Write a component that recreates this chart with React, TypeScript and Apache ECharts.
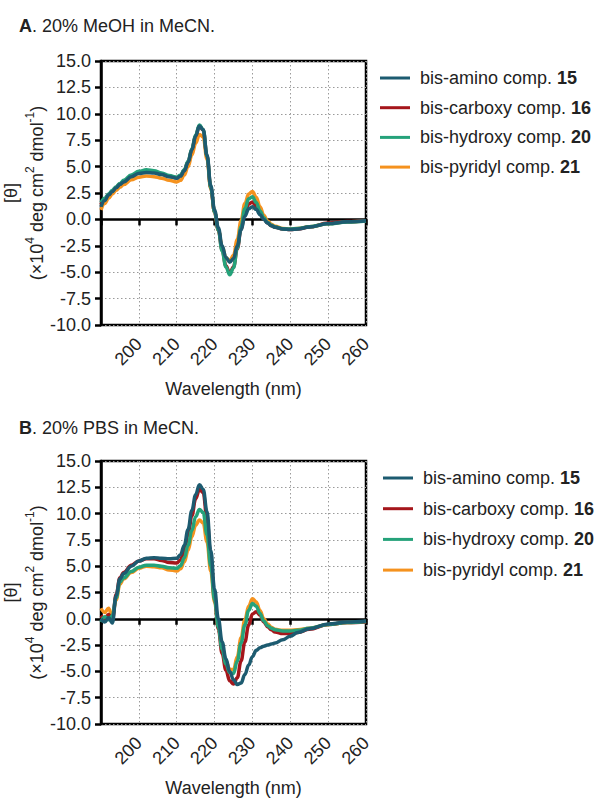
import React, { useEffect, useRef } from "react";
import * as echarts from "echarts";

const FONT = "'Liberation Sans', Arial, Helvetica, sans-serif";
const TXT = "#222";

const wavelengths = [190, 191, 192, 193, 194, 195, 196, 198, 200, 202, 204, 206, 208, 210, 211, 212, 213, 214, 215, 216, 217, 218, 219, 220, 221, 222, 223, 224, 225, 226, 227, 228, 229, 230, 231, 232, 233, 234, 235, 236, 238, 240, 242, 245, 250, 255, 260];

const seriesNames = ["bis-amino comp. 15", "bis-carboxy comp. 16", "bis-hydroxy comp. 20", "bis-pyridyl comp. 21"];
const seriesColors = ["#1d5b70", "#a5161b", "#25a27a", "#f5921e"];

// Panel A: 20% MeOH in MeCN
const aAmino = [1.2, 1.8, 2.3, 2.65, 3.0, 3.3, 3.55, 4.05, 4.35, 4.45, 4.4, 4.25, 4.05, 3.9, 4.1, 4.6, 5.4, 6.6, 7.9, 8.85, 8.5, 6.1, 3.2, 0.9, -0.8, -2.5, -3.6, -4.05, -3.7, -2.5, -1.0, 0.3, 1.0, 1.2, 0.95, 0.45, 0.0, -0.35, -0.6, -0.75, -0.9, -0.95, -0.9, -0.72, -0.4, -0.22, -0.13];
const aCarboxy = [1.4, 1.9, 2.35, 2.7, 3.05, 3.35, 3.6, 4.1, 4.4, 4.55, 4.5, 4.3, 4.1, 3.95, 4.15, 4.65, 5.45, 6.6, 7.9, 8.85, 8.45, 6.0, 3.0, 0.7, -1.0, -2.9, -4.4, -5.1, -4.5, -2.8, -0.9, 0.6, 1.45, 1.65, 1.25, 0.6, 0.05, -0.35, -0.6, -0.75, -0.9, -0.95, -0.9, -0.72, -0.35, -0.2, -0.12];
const aHydroxy = [1.6, 2.0, 2.4, 2.75, 3.1, 3.4, 3.7, 4.2, 4.55, 4.7, 4.6, 4.4, 4.15, 4.0, 4.2, 4.7, 5.5, 6.7, 8.0, 8.95, 8.5, 6.0, 3.0, 0.7, -1.0, -3.0, -4.5, -5.25, -4.6, -2.7, -0.7, 1.0, 1.95, 2.15, 1.6, 0.8, 0.15, -0.3, -0.55, -0.72, -0.88, -0.92, -0.85, -0.7, -0.42, -0.25, -0.15];
const aPyridyl = [0.9, 1.5, 2.0, 2.4, 2.75, 3.05, 3.3, 3.75, 4.0, 4.1, 4.05, 3.9, 3.7, 3.55, 3.7, 4.2, 5.0, 6.1, 7.2, 8.05, 7.8, 5.7, 2.9, 0.7, -1.0, -2.6, -3.6, -3.95, -3.4, -1.9, -0.1, 1.5, 2.4, 2.65, 2.1, 1.2, 0.4, -0.15, -0.45, -0.65, -0.85, -0.9, -0.85, -0.7, -0.4, -0.22, -0.12];

// Panel B: 20% PBS in MeCN
const bAmino = [0.0, -0.3, 0.1, -0.4, 2.2, 3.8, 4.3, 5.0, 5.5, 5.75, 5.8, 5.75, 5.7, 5.75, 6.1, 7.0, 8.5, 10.3, 11.8, 12.75, 12.3, 10.2, 6.5, 2.8, 0.0, -2.2, -3.8, -5.0, -5.8, -6.25, -6.1, -5.3, -4.4, -3.6, -3.0, -2.75, -2.6, -2.5, -2.4, -2.3, -2.0, -1.65, -1.3, -0.95, -0.5, -0.3, -0.2];
const bCarboxy = [0.3, 0.0, 0.4, -0.1, 2.3, 3.9, 4.4, 5.1, 5.5, 5.7, 5.7, 5.55, 5.35, 5.3, 5.6, 6.5, 8.0, 9.8, 11.4, 12.3, 12.0, 9.5, 5.8, 2.0, -1.0, -3.3, -4.9, -5.9, -6.2, -5.6, -4.0, -2.2, -0.6, 0.45, 0.68, 0.35, -0.3, -0.75, -1.05, -1.25, -1.4, -1.4, -1.3, -1.0, -0.55, -0.35, -0.3];
const bHydroxy = [-0.3, 0.2, -0.1, 0.3, 2.0, 3.5, 3.9, 4.5, 4.9, 5.1, 5.1, 5.0, 4.85, 4.8, 5.05, 5.8, 7.0, 8.4, 9.7, 10.4, 10.1, 8.0, 5.0, 1.8, -0.8, -2.9, -4.3, -5.1, -5.2, -4.0, -2.3, -0.6, 0.8, 1.45, 1.2, 0.5, -0.2, -0.65, -0.9, -1.05, -1.15, -1.15, -1.1, -0.9, -0.55, -0.35, -0.25];
const bPyridyl = [1.0, 0.6, 1.0, 0.2, 1.8, 3.3, 3.8, 4.4, 4.8, 5.0, 4.95, 4.85, 4.65, 4.55, 4.75, 5.4, 6.5, 7.8, 8.9, 9.4, 9.1, 7.3, 4.5, 1.6, -0.8, -2.7, -4.0, -4.8, -4.85, -3.6, -1.8, -0.1, 1.2, 1.9, 1.6, 0.8, 0.0, -0.5, -0.8, -1.0, -1.1, -1.1, -1.05, -0.9, -0.55, -0.35, -0.25];

const xTicks = [200, 210, 220, 230, 240, 250, 260];
const panelTitles = [
  { letter: "A", rest: ". 20% MeOH in MeCN." },
  { letter: "B", rest: ". 20% PBS in MeCN." },
];

const panelA = [aAmino, aCarboxy, aHydroxy, aPyridyl];
const panelB = [bAmino, bCarboxy, bHydroxy, bPyridyl];

const GRIDS = [
  { left: 101, top: 61, width: 265, height: 264, legendTop: 64, legendLeft: 375, legendGap: 11.7, titleTop: 12 },
  { left: 101, top: 461, width: 265, height: 266, legendTop: 464, legendLeft: 378, legendGap: 12.7, titleTop: 414 },
];

function buildOption() {
  const grid: any[] = [];
  const xAxis: any[] = [];
  const yAxis: any[] = [];
  const series: any[] = [];
  const legend: any[] = [];
  const title: any[] = [];
  const gridLine = { show: true, lineStyle: { color: "#9a9a9a", type: [1.5, 2.5], width: 1 } };

  GRIDS.forEach((g, gi) => {
    grid.push({
      left: g.left, top: g.top, width: g.width, height: g.height,
      show: true, borderColor: "#000", borderWidth: 2.5, backgroundColor: "transparent",
    });
    xAxis.push({
      gridIndex: gi, type: "value", min: 190, max: 260, interval: 10, position: "bottom",
      axisLine: { show: false, onZero: false },
      axisTick: { show: false },
      splitLine: gridLine,
      axisLabel: {
        rotate: 45, margin: 16, fontSize: 18, color: TXT, fontFamily: FONT,
        formatter: (v: number) => (xTicks.includes(v) ? String(v) : ""),
      },
      name: "Wavelength (nm)", nameLocation: "middle", nameGap: 55,
      nameTextStyle: { fontSize: 18, color: TXT, fontFamily: FONT },
    });
    xAxis.push({
      gridIndex: gi, type: "value", min: 190, max: 260, interval: 10, position: "top",
      axisLine: { show: true, onZero: true, lineStyle: { color: "#000", width: 2.5 } },
      axisTick: { show: true, inside: true, length: 6, lineStyle: { color: "#000", width: 2.5 } },
      axisLabel: { show: false },
      splitLine: { show: false },
    });
    yAxis.push({
      gridIndex: gi, type: "value", min: -10, max: 15, interval: 2.5,
      axisLine: { show: true, onZero: false, lineStyle: { color: "#000", width: 2.5 } },
      axisTick: { show: true, length: 6, lineStyle: { color: "#000", width: 2.5 } },
      splitLine: gridLine,
      axisLabel: { fontSize: 18, color: TXT, fontFamily: FONT, margin: 10, formatter: (v: number) => v.toFixed(1) },
      name: "{n|[θ]}\n{n|(×10}{s|4}{n| deg cm}{s|2}{n| dmol}{s|-1}{n|)}",
      nameLocation: "middle", nameRotate: 90, nameGap: 45,
      nameTextStyle: {
        fontFamily: FONT, color: TXT,
        rich: {
          n: { fontSize: 18, lineHeight: 26, fontFamily: FONT, color: TXT },
          s: { fontSize: 12, lineHeight: 14, verticalAlign: "top", fontFamily: FONT, color: TXT },
        },
      },
    });
    const data = gi === 0 ? panelA : panelB;
    // draw order: pyridyl, carboxy, hydroxy, amino (amino on top)
    [3, 1, 2, 0].forEach((si) => {
      series.push({
        type: "line", name: seriesNames[si], xAxisIndex: gi * 2, yAxisIndex: gi,
        data: wavelengths.map((w, i) => [w, data[si][i]]),
        showSymbol: false, symbol: "none", smooth: 0.4, smoothMonotone: "x",
        lineStyle: { color: seriesColors[si], width: 3.5 }, itemStyle: { color: seriesColors[si] },
        z: 3,
      });
    });
    legend.push({
      orient: "vertical", left: g.legendLeft, top: g.legendTop,
      icon: "rect", itemWidth: 30, itemHeight: 3, itemGap: g.legendGap,
      data: seriesNames.map((n, i) => ({ name: n, icon: "rect", itemStyle: { color: seriesColors[i] } })),
      selectedMode: false,
      formatter: (name: string) => {
        const idx = name.lastIndexOf(" ");
        return `{n|${name.slice(0, idx + 1)}}{b|${name.slice(idx + 1)}}`;
      },
      textStyle: {
        fontFamily: FONT, color: TXT, fontSize: 18,
        rich: {
          n: { fontSize: 18, lineHeight: 20, fontFamily: FONT, color: TXT, padding: [0, 0, 0, 5] },
          b: { fontSize: 18, lineHeight: 20, fontWeight: "bold", fontFamily: FONT, color: TXT },
        },
      },
    });
    title.push({
      left: 14, top: g.titleTop,
      text: `{b|${panelTitles[gi].letter}}{n|${panelTitles[gi].rest}}`,
      textStyle: {
        fontWeight: "normal",
        rich: {
          b: { fontSize: 18, fontWeight: "bold", fontFamily: FONT, color: TXT },
          n: { fontSize: 18, fontWeight: "normal", fontFamily: FONT, color: TXT },
        },
      },
    });
  });

  return { animation: false, backgroundColor: "#fff", title, grid, xAxis, yAxis, series, legend };
}

export default function App() {
  const ref = useRef<HTMLDivElement>(null);
  useEffect(() => {
    if (!ref.current) return;
    const chart = echarts.init(ref.current, null, { renderer: "svg" });
    chart.setOption(buildOption() as any);
    return () => chart.dispose();
  }, []);
  return <div ref={ref} style={{ position: "fixed", left: 0, top: 0, width: 605, height: 798, background: "#fff" }} />;
}
